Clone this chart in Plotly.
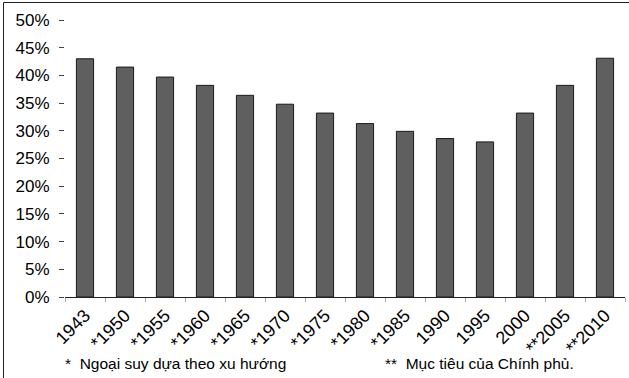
import plotly.graph_objects as go

# Year labels (asterisks mark extrapolated values / government targets)
years = ["1943", "*1950", "*1955", "*1960", "*1965", "*1970", "*1975",
         "*1980", "*1985", "1990", "1995", "2000", "**2005", "**2010"]
# Share in percent
shares = [43.0, 41.5, 39.7, 38.2, 36.4, 34.8, 33.2,
          31.3, 29.9, 28.6, 28.0, 33.2, 38.2, 43.1]
y_ticks = [0, 5, 10, 15, 20, 25, 30, 35, 40, 45, 50]
y_labels = [f"{v}%" for v in y_ticks]

note_trend = "*  Ngoại suy dựa theo xu hướng"
note_target = "**  Mục tiêu của Chính phủ."

FONT = "Liberation Sans, Arial, sans-serif"

fig = go.Figure(
    go.Bar(
        x=years,
        y=shares,
        marker=dict(color="#5f5f5f", line=dict(color="#1a1a1a", width=1)),
        width=0.43,
    )
)

W, H = 629, 378
L, R, T, B = 65, 4, 20, 81
pw, ph = W - L - R, H - T - B


def px_x(x):
    return (x - L) / pw


def px_y(y):
    return (H - B - y) / ph


fig.update_layout(
    width=W,
    height=H,
    margin=dict(l=L, r=R, t=T, b=B, autoexpand=False),
    paper_bgcolor="white",
    plot_bgcolor="white",
    showlegend=False,
    font=dict(family=FONT, color="black"),
    xaxis=dict(
        type="category",
        tickangle=-45,
        tickfont=dict(size=18, family=FONT, color="black"),
        showline=True,
        linecolor="#222",
        linewidth=1,
        ticks="outside",
        tickson="boundaries",
        ticklen=4,
        tickcolor="#aaa",
        showgrid=False,
        automargin=False,
    ),
    yaxis=dict(
        range=[0, 50],
        tickmode="array",
        tickvals=y_ticks,
        ticktext=y_labels,
        tickfont=dict(size=17, family=FONT, color="black"),
        ticks="outside",
        ticklen=5,
        tickcolor="#444",
        ticklabelstandoff=6,
        showgrid=False,
        showline=False,
        zeroline=False,
        automargin=False,
    ),
    annotations=[
        dict(text=note_trend, x=px_x(63), y=px_y(364), xref="paper", yref="paper",
             xanchor="left", yanchor="middle", showarrow=False,
             font=dict(size=15.5, family=FONT, color="black")),
        dict(text=note_target, x=px_x(383), y=px_y(364), xref="paper", yref="paper",
             xanchor="left", yanchor="middle", showarrow=False,
             font=dict(size=15.5, family=FONT, color="black")),
    ],
    shapes=[
        # outer frame (top and left edges visible)
        dict(type="rect", xref="paper", yref="paper",
             x0=px_x(3.5), x1=px_x(640), y0=px_y(390), y1=px_y(2.5),
             line=dict(color="#222", width=1), fillcolor="rgba(0,0,0,0)",
             layer="below"),
    ],
)

fig.write_html("out.html")
